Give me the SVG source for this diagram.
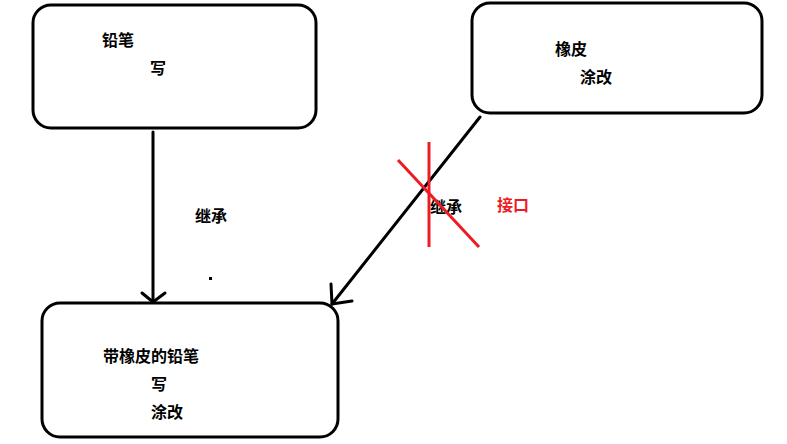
<svg xmlns="http://www.w3.org/2000/svg" width="787" height="444" viewBox="0 0 787 444">
  <style>
    .box { fill: #fff; stroke: #000; stroke-width: 3; }
    .lbl { font-family: "Noto Sans CJK SC", "Microsoft YaHei", sans-serif; font-size: 16px; font-weight: bold; fill: #000; }
    .red { fill: #ed1c24; }
    .edge { stroke: #000; stroke-width: 3; fill: none; stroke-linecap: round; stroke-linejoin: round; }
    .cross { stroke: #ed1c24; stroke-width: 3; fill: none; }
  </style>
  <rect width="787" height="444" fill="#fff"/>

  <g id="pencil">
    <rect class="box" x="33" y="5" width="283" height="123" rx="18"/>
    <text class="lbl" x="102" y="46">铅笔</text>
    <text class="lbl" x="150" y="74">写</text>
  </g>

  <g id="eraser">
    <rect class="box" x="472" y="3" width="290" height="110" rx="18"/>
    <text class="lbl" x="555" y="55">橡皮</text>
    <text class="lbl" x="580" y="83">涂改</text>
  </g>

  <g id="eraser-pencil">
    <rect class="box" x="42" y="303" width="296" height="134" rx="18"/>
    <text class="lbl" x="103" y="362">带橡皮的铅笔</text>
    <text class="lbl" x="151" y="390">写</text>
    <text class="lbl" x="151" y="418">涂改</text>
  </g>

  <g id="connectors">
    <!-- inheritance: pencil -> eraser-pencil -->
    <line class="edge" x1="153" y1="132" x2="153" y2="302"/>
    <polyline class="edge" points="142,293 153,302 165,293"/>
    <text class="lbl" x="195" y="222">继承</text>
    <rect x="209" y="277" width="3" height="3" fill="#000"/>

    <!-- crossed-out inheritance: eraser -> eraser-pencil -->
    <line class="edge" x1="480" y1="117" x2="332" y2="304"/>
    <polyline class="edge" points="331,284 332,304 352,301"/>
    <text class="lbl" x="430" y="213">继承</text>
    <line class="cross" x1="429" y1="142" x2="429" y2="247"/>
    <line class="cross" x1="398" y1="160" x2="479" y2="247"/>
    <text class="lbl red" x="497" y="211">接口</text>
  </g>
</svg>
